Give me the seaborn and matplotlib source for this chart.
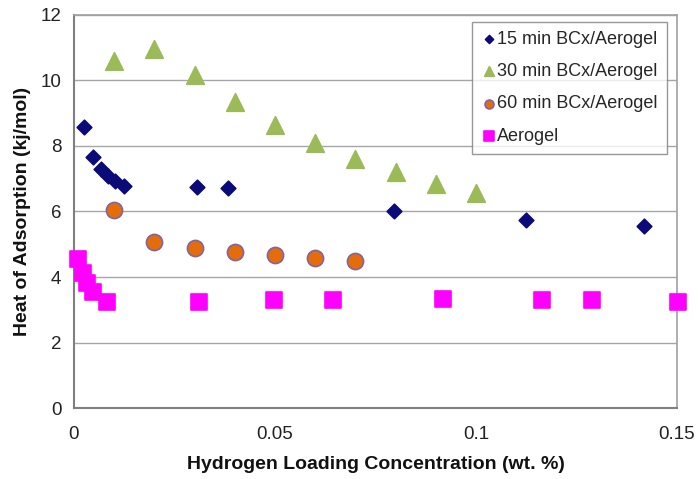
import numpy as np
import pandas as pd
import matplotlib
matplotlib.use("Agg")
import matplotlib.pyplot as plt
import seaborn as sns

# 15 min BCx/Aerogel
x15 = [0.0025, 0.0047, 0.0067, 0.0085, 0.0102, 0.0124, 0.0306, 0.0383, 0.0796, 0.1124, 0.1418]
y15 = [8.58, 7.66, 7.30, 7.08, 6.92, 6.78, 6.75, 6.72, 6.02, 5.74, 5.55]

# 30 min BCx/Aerogel
x30 = [0.01, 0.02, 0.03, 0.04, 0.05, 0.06, 0.07, 0.08, 0.09, 0.10]
y30 = [10.6, 10.95, 10.15, 9.35, 8.65, 8.1, 7.6, 7.2, 6.85, 6.55]

# 60 min BCx/Aerogel
x60 = [0.01, 0.02, 0.03, 0.04, 0.05, 0.06, 0.07]
y60 = [6.05, 5.07, 4.88, 4.77, 4.67, 4.58, 4.50]

# Aerogel
xaer = [0.001, 0.0022, 0.0032, 0.0047, 0.0082, 0.031, 0.0497, 0.0644, 0.0918, 0.1164, 0.1289, 0.1502]
yaer = [4.55, 4.12, 3.82, 3.55, 3.24, 3.24, 3.30, 3.30, 3.33, 3.30, 3.30, 3.25]

sns.set_style("white")
plt.rcParams['font.family'] = ['Liberation Sans', 'DejaVu Sans']

fig = plt.figure(figsize=(6.98, 4.79), dpi=100)
ax = fig.add_axes([0.106, 0.148, 0.864, 0.821])

series = [
    ("15 min BCx/Aerogel", x15, y15, "D", "#0a0a78", "#0a0a78", 55),
    ("30 min BCx/Aerogel", x30, y30, "^", "#9bbb59", "#9bbb59", 160),
    ("60 min BCx/Aerogel", x60, y60, "o", "#e46c0a", "#8064a2", 135),
    ("Aerogel", xaer, yaer, "s", "#ff00ff", "#ff00ff", 145),
]

for name, xs, ys, mk, fc, ec, s in series:
    df = pd.DataFrame({"x": xs, "y": ys})
    sns.scatterplot(data=df, x="x", y="y", ax=ax, marker=mk, color=fc,
                    edgecolor=ec, linewidth=1.2, s=s, label=name, zorder=3,
                    clip_on=False)

ax.set_xlim(0, 0.15)
ax.set_ylim(0, 12)
ax.set_xticks([0, 0.05, 0.1, 0.15])
ax.set_xticklabels(["0", "0.05", "0.1", "0.15"])
ax.set_yticks(range(0, 13, 2))
ax.yaxis.grid(True, color="#a6a6a6", linewidth=1)
ax.set_axisbelow(True)

for sp in ["top", "right"]:
    ax.spines[sp].set_color("#a0a0a0")
    ax.spines[sp].set_linewidth(1.2)
for sp in ["left", "bottom"]:
    ax.spines[sp].set_color("#7f7f7f")
    ax.spines[sp].set_linewidth(1.5)

ax.tick_params(axis="both", which="both", direction="out", length=5,
               width=1.2, color="#7f7f7f", labelsize=13.5, labelcolor="#222222")
ax.tick_params(axis="y", pad=4)
ax.tick_params(axis="x", pad=8)

ax.set_xlabel("Hydrogen Loading Concentration (wt. %)", fontsize=14,
              fontweight="bold", labelpad=9, color="#111111")
ax.set_ylabel("Heat of Adsorption (kj/mol)", fontsize=14,
              fontweight="bold", labelpad=7, color="#111111")

leg = ax.legend(loc="upper right", bbox_to_anchor=(0.983, 0.983), fontsize=13,
                frameon=True, fancybox=False, edgecolor="#7f7f7f",
                handletextpad=0.0, borderpad=0.5, labelspacing=0.85,
                markerscale=0.55, handlelength=0.9, borderaxespad=0)
leg.get_frame().set_linewidth(1.0)

fig.savefig("out.png", dpi=100)
